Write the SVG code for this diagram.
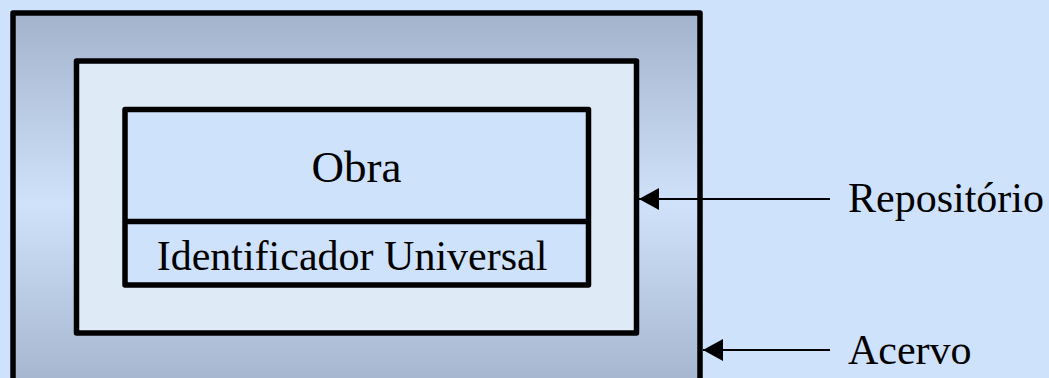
<svg xmlns="http://www.w3.org/2000/svg" width="1049" height="378" viewBox="0 0 1049 378">
<defs>
<linearGradient id="g" x1="0" y1="0" x2="0" y2="1">
<stop offset="0" stop-color="#a2b3cb"/>
<stop offset="0.5" stop-color="#d0e2fa"/>
<stop offset="1" stop-color="#a2b3cb"/>
</linearGradient>
<marker id="ah" viewBox="0 0 20 22" refX="20" refY="11" markerWidth="20" markerHeight="22" markerUnits="userSpaceOnUse" orient="auto">
<path d="M0,0 L20,11 L0,22 Z" fill="#000"/>
</marker>
<style>
.box{stroke:#000;stroke-width:5.5;stroke-linejoin:round}
.t{font-family:"Liberation Serif","Times New Roman",serif;fill:#000}
.c{stroke:#000;stroke-width:2;fill:none}
</style>
</defs>
<rect width="1049" height="378" fill="#cfe2fb"/>
<g id="acervo">
<rect class="box" x="13" y="13" width="687" height="382" fill="url(#g)"/>
</g>
<g id="repositorio">
<rect class="box" x="76.5" y="61" width="560" height="272" fill="#deebf6"/>
</g>
<g id="obra">
<rect class="box" x="125" y="109.5" width="463.5" height="175.5" fill="#cfe2fb"/>
<line x1="125" y1="221.5" x2="588.5" y2="221.5" stroke="#000" stroke-width="5.5"/>
<text class="t" x="356.5" y="182" font-size="45" text-anchor="middle">Obra</text>
<text class="t" x="352" y="270" font-size="42" text-anchor="middle">Identificador Universal</text>
</g>
<g id="connectors">
<line class="c" x1="830" y1="199" x2="639" y2="199" marker-end="url(#ah)"/>
<line class="c" x1="830" y1="350" x2="703" y2="350" marker-end="url(#ah)"/>
</g>
<g id="labels">
<text class="t" x="848" y="212" font-size="42">Repositório</text>
<text class="t" x="848" y="364" font-size="42">Acervo</text>
</g>
</svg>
